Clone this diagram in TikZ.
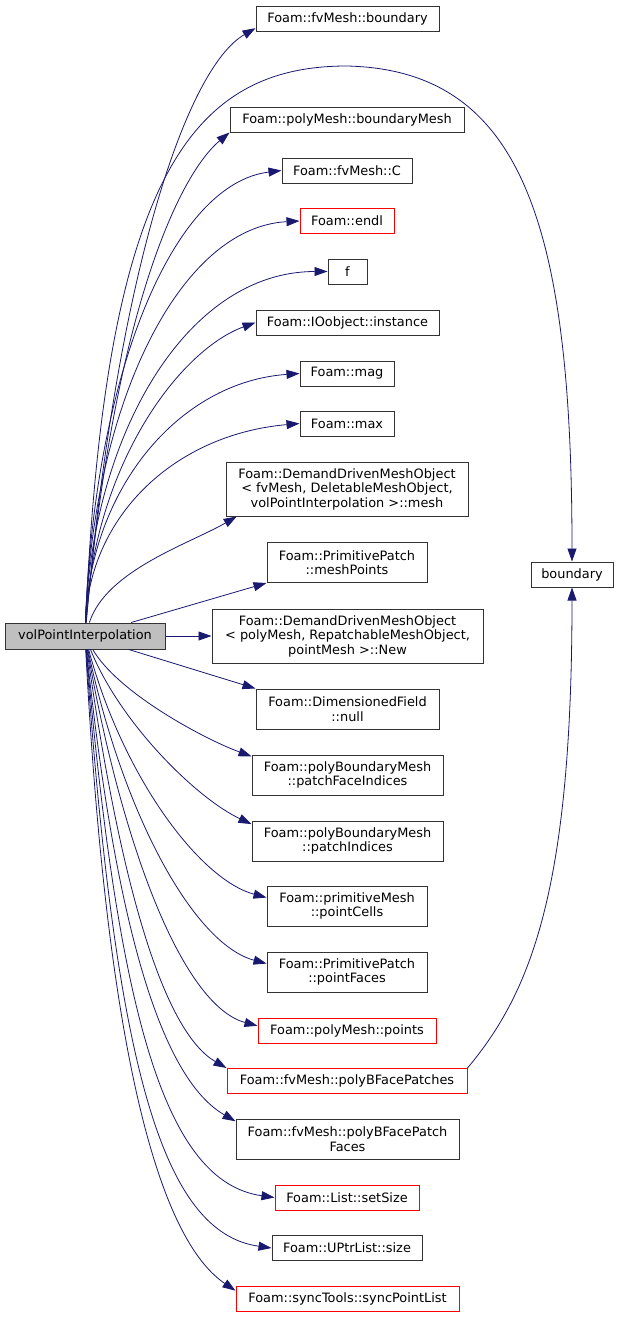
\documentclass[tikz,border=0pt]{standalone}
\usepackage{fontspec}
\setmainfont{DejaVu Sans}
\usetikzlibrary{arrows.meta}
\definecolor{edgeblue}{HTML}{191970}
\definecolor{nodegray}{HTML}{BFBFBF}

\begin{document}
\begin{tikzpicture}[
        x=1pt, y=-1pt,
        >={Triangle[length=13pt,width=9pt]},
        every node/.style={
            rectangle,
            draw=black!80,
            line width=1pt,
            inner sep=0pt,
            align=center,
            font=\fontsize{12.9}{14.5}\selectfont
        },
        fn/.style 2 args={minimum width=#1, minimum height=#2},
        missing/.style={draw=red},
        call/.style={->, draw=edgeblue, line width=0.8pt}
    ]

    \useasboundingbox (0,0) rectangle (619,1317);

    % callees
    \node[fn={183}{25}] (fvb) at (347.5,18.5) {Foam::fvMesh::boundary};
    \node[fn={234}{25}] (bmesh) at (347,119.5) {Foam::polyMesh::boundaryMesh};
    \node[fn={130}{25}] (fvC) at (347,170.5) {Foam::fvMesh::C};
    \node[fn={94}{25},missing] (endl) at (347,221) {Foam::endl};
    \node[fn={39}{25}] (f) at (347.5,271.5) {f};
    \node[fn={183}{25}] (inst) at (347.5,322.5) {Foam::IOobject::instance};
    \node[fn={94}{25}] (mag) at (347,373.5) {Foam::mag};
    \node[fn={94}{25}] (max) at (347,423.5) {Foam::max};
    \node[fn={242}{54}] (dmesh) at (347,489) {Foam::DemandDrivenMeshObject\\< fvMesh, DeletableMeshObject,\\volPointInterpolation >::mesh};
    \node[fn={160}{40}] (mpts) at (347,562.5) {Foam::PrimitivePatch\\::meshPoints};
    \node[fn={271}{54}] (dnew) at (347.5,636) {Foam::DemandDrivenMeshObject\\< polyMesh, RepatchableMeshObject,\\pointMesh >::New};
    \node[fn={183}{40}] (null) at (347.5,709) {Foam::DimensionedField\\::null};
    \node[fn={191}{40}] (pfi) at (347.5,775) {Foam::polyBoundaryMesh\\::patchFaceIndices};
    \node[fn={191}{40}] (pidx) at (347.5,841) {Foam::polyBoundaryMesh\\::patchIndices};
    \node[fn={160}{40}] (pcells) at (347,906) {Foam::primitiveMesh\\::pointCells};
    \node[fn={160}{40}] (pfaces) at (347,972) {Foam::PrimitivePatch\\::pointFaces};
    \node[fn={178}{25},missing] (pts) at (347,1030.5) {Foam::polyMesh::points};
    \node[fn={240}{25},missing] (pbfp) at (347,1081) {Foam::fvMesh::polyBFacePatches};
    \node[fn={223}{40}] (pbfpf) at (347.5,1139) {Foam::fvMesh::polyBFacePatch\\Faces};
    \node[fn={144}{25},missing] (setsz) at (347,1197.5) {Foam::List::setSize};
    \node[fn={150}{25}] (usize) at (347,1248) {Foam::UPtrList::size};
    \node[fn={223}{25},missing] (sync) at (347.5,1298.5) {Foam::syncTools::syncPointList};
    \node[fn={82}{25}] (bnd) at (572,574.5) {boundary};

    % caller
    \node[fn={160}{26},fill=nodegray] (main) at (85,636) {volPointInterpolation};

    % fan of calls
    \foreach \dst/\anc/\o/\od/\i/\id in {
        fvb/186/85/350/210/80,
        bmesh/south west/85/300/220/70,
        fvC/west/88/242/187/112,
        endl/west/88/220/183/120,
        f/west/88/190/180/140,
        inst/west/87/160/200/80,
        mag/west/88/135/184/120,
        max/west/88/107/185/125,
        dmesh/194/72/55/210/55,
        pfi/169/-60/50/160/50,
        pidx/170/-68/80/155/60,
        pcells/174/-75/130/165/70,
        pfaces/174/-78/170/165/75,
        pts/177/-80/210/165/75,
        pbfp/north west/-82/250/150/70,
        pbfpf/171/-84/300/150/80,
        setsz/west/-85/370/172/110,
        usize/west/-86/420/172/110,
        sync/176/-87/450/146/80%
    }
        \draw[call] (main) to[out=\o, in=\i, out distance=\od pt, in distance=\id pt] (\dst.\anc);

    \draw[call] (main) -- (mpts.south west);
    \draw[call] (main) -- (dnew);
    \draw[call] (main) -- (null.north west);

    % long arc over the top
    \coordinate (arctop) at (347,66);
    \draw[call] (main) .. controls (105,180) and (190,66) .. (arctop)
        .. controls (520,70) and (572,220) .. (bnd.north);
    \draw[call] (pbfp.north east) to[out=50, in=-90, out distance=100pt, in distance=300pt] (bnd.south);

\end{tikzpicture}
\end{document}
